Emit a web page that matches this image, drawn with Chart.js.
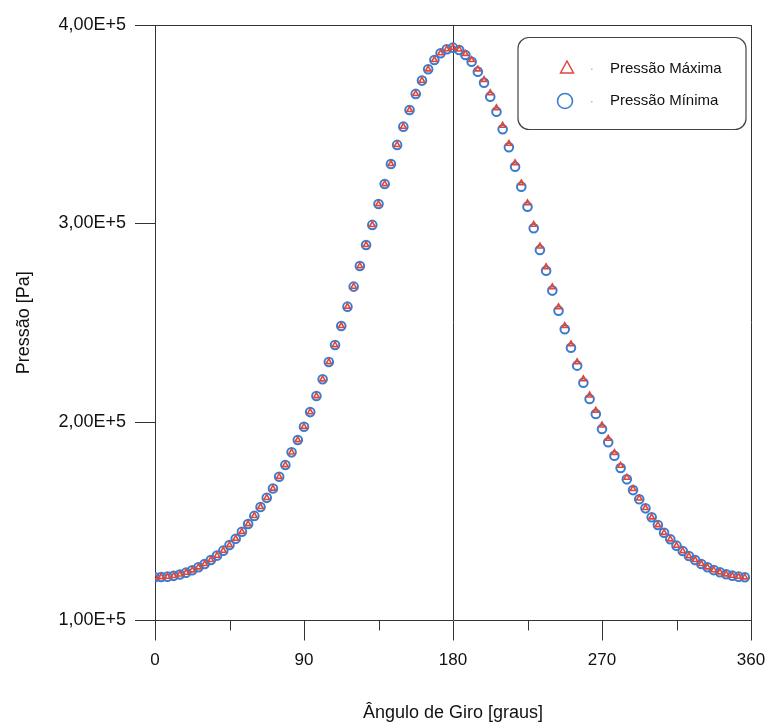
<!DOCTYPE html>
<html>
<head>
<meta charset="utf-8">
<title>Pressão x Ângulo de Giro</title>
<script src="https://cdn.jsdelivr.net/npm/chart.js@4.4.1/dist/chart.umd.min.js"></script>
<style>
  html, body { margin: 0; padding: 0; background: #fff; }
  #wrap { width: 771px; height: 726px; position: relative; }
</style>
</head>
<body>
<div id="wrap"><canvas id="pressChart"></canvas></div>
<script>
// crank angle (deg), one sample every 3.75 deg
const angulos = [
  0, 3.75, 7.5, 11.25, 15, 18.75, 22.5, 26.25, 30, 33.75, 37.5, 41.25,
  45, 48.75, 52.5, 56.25, 60, 63.75, 67.5, 71.25, 75, 78.75, 82.5, 86.25,
  90, 93.75, 97.5, 101.25, 105, 108.75, 112.5, 116.25, 120, 123.75, 127.5, 131.25,
  135, 138.75, 142.5, 146.25, 150, 153.75, 157.5, 161.25, 165, 168.75, 172.5, 176.25,
  180, 183.75, 187.5, 191.25, 195, 198.75, 202.5, 206.25, 210, 213.75, 217.5, 221.25,
  225, 228.75, 232.5, 236.25, 240, 243.75, 247.5, 251.25, 255, 258.75, 262.5, 266.25,
  270, 273.75, 277.5, 281.25, 285, 288.75, 292.5, 296.25, 300, 303.75, 307.5, 311.25,
  315, 318.75, 322.5, 326.25, 330, 333.75, 337.5, 341.25, 345, 348.75, 352.5, 356.25
];

// pressures in Pa
const pressaoMinima = [
  121800, 121900, 122100, 122500, 123200, 124100, 125300, 126800, 128500, 130500, 132700, 135200,
  138000, 141200, 144700, 148600, 152700, 157200, 161800, 166500, 172400, 178300, 184700, 190900,
  197600, 205000, 213100, 221500, 230200, 238800, 248400, 258100, 268200, 278600, 289200, 299300,
  309800, 319900, 330000, 339600, 348800, 357200, 365300, 372000, 377700, 382400, 385800, 387800,
  388600, 387400, 384900, 381500, 376500, 370900, 363900, 356300, 347500, 338400, 328600, 318500,
  308500, 297600, 286700, 276200, 266200, 256100, 246700, 237400, 228400, 219800, 211600, 204000,
  196500, 189800, 183000, 176800, 171100, 165700, 161100, 156500, 152000, 148100, 144200, 140900,
  137700, 135000, 132500, 130500, 128500, 126800, 125400, 124300, 123300, 122600, 122100, 121800
];

const pressaoMaxima = [
  121800, 121900, 122100, 122500, 123200, 124100, 125300, 126800, 128500, 130500, 132700, 135200,
  138000, 141200, 144700, 148600, 152700, 157200, 161800, 166500, 172400, 178300, 184700, 190900,
  197600, 205000, 213100, 221500, 230200, 238800, 248400, 258100, 268200, 278600, 289200, 299300,
  309800, 319900, 330000, 339600, 348800, 357200, 365300, 372000, 377700, 382400, 385800, 387800,
  388600, 387700, 385500, 382400, 377700, 372400, 365700, 358100, 349300, 340200, 330400, 320300,
  310300, 299400, 288500, 278000, 268000, 257900, 248500, 239200, 230200, 221600, 213400, 205800,
  198300, 191600, 184500, 178000, 172000, 166300, 161500, 156700, 152000, 148100, 144200, 140900,
  137700, 135000, 132500, 130500, 128500, 126800, 125400, 124300, 123300, 122600, 122100, 121800
];

const ticksX = [0, 90, 180, 270, 360];
const ticksXMenores = [45, 135, 225, 315];
const ticksY = [100000, 200000, 300000, 400000];

const FONTE = '"Liberation Sans", Arial, sans-serif';
const COR_EIXO = '#333';
const VERMELHO = '#e0473a';
const AZUL = '#3a7dd0';

// short ticks between the labelled ones on the x axis
const minorTicks = {
  id: 'minorTicks',
  afterDraw(chart) {
    const x = chart.scales.x;
    const c = chart.ctx;
    c.save();
    c.strokeStyle = COR_EIXO;
    c.lineWidth = 1;
    ticksXMenores.forEach(v => {
      const px = Math.round(x.getPixelForValue(v)) + 0.5;
      c.beginPath();
      c.moveTo(px, x.top);
      c.lineTo(px, x.top + 10);
      c.stroke();
    });
    c.restore();
  }
};

// legend box drawn inside the plot, top right
const legendaBox = {
  id: 'legendaBox',
  afterDraw(chart) {
    const a = chart.chartArea;
    const c = chart.ctx;
    const bx = a.right - 233, by = a.top + 12.5, bw = 228, bh = 92, r = 11;
    c.save();
    c.strokeStyle = '#444';
    c.lineWidth = 1.2;
    c.beginPath();
    c.roundRect(bx, by, bw, bh, r);
    c.stroke();

    // triangle
    const tx = bx + 49, ty = by + 30;
    c.strokeStyle = VERMELHO;
    c.lineWidth = 1.5;
    c.beginPath();
    c.moveTo(tx, ty - 6.5);
    c.lineTo(tx - 6.5, ty + 5.5);
    c.lineTo(tx + 6.5, ty + 5.5);
    c.closePath();
    c.stroke();

    // circle
    const cx = bx + 47, cy = by + 63.5;
    c.strokeStyle = AZUL;
    c.lineWidth = 1.6;
    c.beginPath();
    c.arc(cx, cy, 7.5, 0, Math.PI * 2);
    c.stroke();

    c.fillStyle = '#bbb';
    c.fillRect(bx + 73, ty + 1, 1.5, 1.5);
    c.fillRect(bx + 73, cy, 1.5, 1.5);

    c.fillStyle = '#111';
    c.font = '15px ' + FONTE;
    c.textBaseline = 'middle';
    c.fillText('Pressão Máxima', bx + 92, ty + 1.5);
    c.fillText('Pressão Mínima', bx + 92, cy);
    c.restore();
  }
};

const ctx = document.getElementById('pressChart').getContext('2d');
new Chart(ctx, {
  type: 'scatter',
  data: {
    datasets: [
      {
        label: 'Pressão Máxima',
        data: angulos.map((a, i) => ({ x: a, y: pressaoMaxima[i] })),
        pointStyle: 'triangle',
        pointRadius: 3.2,
        pointBorderWidth: 1.6,
        borderColor: VERMELHO,
        backgroundColor: 'rgba(255,255,255,0)',
        order: 0
      },
      {
        label: 'Pressão Mínima',
        data: angulos.map((a, i) => ({ x: a, y: pressaoMinima[i] })),
        pointStyle: 'circle',
        pointRadius: 4.3,
        pointBorderWidth: 2,
        borderColor: AZUL,
        backgroundColor: 'rgba(255,255,255,0)',
        order: 1
      }
    ]
  },
  options: {
    responsive: true,
    maintainAspectRatio: false,
    animation: false,
    layout: { padding: { left: 0, right: 20, top: 25, bottom: 0 } },
    plugins: {
      legend: { display: false },
      tooltip: { enabled: false }
    },
    scales: {
      x: {
        type: 'linear',
        min: 0,
        max: 360,
        afterFit: s => { s.height = 105.5; s.paddingLeft = 0; s.paddingRight = 0; },
        afterBuildTicks: s => { s.ticks = ticksX.map(v => ({ value: v })); },
        ticks: {
          color: '#111',
          padding: 10,
          font: { family: FONTE, size: 17 }
        },
        grid: {
          color: c => (c.tick && (c.tick.value === 180 || c.tick.value === 360)) ? COR_EIXO : 'rgba(0,0,0,0)',
          tickColor: COR_EIXO,
          tickLength: 20,
          lineWidth: 1
        },
        border: { display: true, color: COR_EIXO, width: 1 },
        title: {
          display: true,
          text: 'Ângulo de Giro [graus]',
          color: '#111',
          font: { family: FONTE, size: 18 },
          padding: { top: 4, bottom: 2 }
        }
      },
      y: {
        type: 'linear',
        min: 100000,
        max: 400000,
        afterFit: s => { s.width = 155; },
        afterBuildTicks: s => { s.ticks = ticksY.map(v => ({ value: v })); },
        ticks: {
          color: '#111',
          padding: 9,
          font: { family: FONTE, size: 18 },
          callback: v => (v / 100000).toFixed(2).replace('.', ',') + 'E+5'
        },
        grid: {
          color: c => (c.tick && c.tick.value === 400000) ? COR_EIXO : 'rgba(0,0,0,0)',
          tickColor: COR_EIXO,
          tickLength: 20,
          lineWidth: 1
        },
        border: { display: true, color: COR_EIXO, width: 1 },
        title: {
          display: true,
          text: 'Pressão [Pa]',
          color: '#111',
          font: { family: FONTE, size: 18 },
          padding: { top: 13, bottom: 4 }
        }
      }
    }
  },
  plugins: [minorTicks, legendaBox]
});
</script>
</body>
</html>
